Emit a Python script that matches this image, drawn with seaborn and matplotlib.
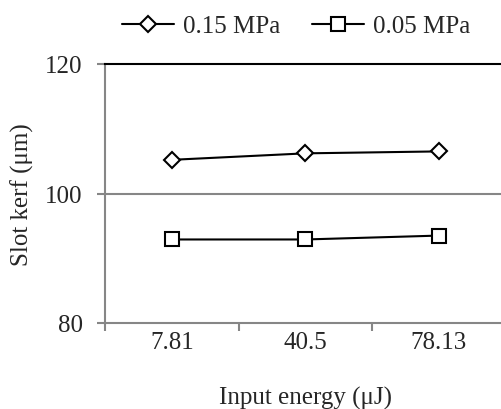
import matplotlib
matplotlib.use("Agg")
import matplotlib.pyplot as plt
import seaborn as sns
import pandas as pd

# data
energy = ["7.81", "40.5", "78.13"]
kerf_015 = [105.2, 106.2, 106.5]
kerf_005 = [92.9, 92.9, 93.5]

sns.set_style("white")
plt.rcParams['font.family'] = ['Liberation Serif', 'DejaVu Serif']
plt.rcParams['font.size'] = 18

gray = '#868686'

fig = plt.figure(figsize=(5.01, 4.10), dpi=100)
ax = fig.add_axes([105 / 501, 86 / 410, 400.5 / 501, 259 / 410])

df1 = pd.DataFrame({"energy": energy, "kerf": kerf_015})
df2 = pd.DataFrame({"energy": energy, "kerf": kerf_005})

sns.lineplot(data=df1, x="energy", y="kerf", ax=ax, color='black', lw=1.5,
             marker='D', markersize=8, markerfacecolor='white',
             markeredgecolor='black', markeredgewidth=1.5, label='0.15 MPa')
sns.lineplot(data=df2, x="energy", y="kerf", ax=ax, color='black', lw=1.5,
             marker='s', markersize=10.5, markerfacecolor='white',
             markeredgecolor='black', markeredgewidth=1.5, label='0.05 MPa')

ax.set_xlim(-0.5, 2.5)
ax.set_ylim(80, 120)
ax.set_yticks([80, 100, 120])
ax.set_xticks([0, 1, 2])
ax.set_xticks([-0.5, 0.5, 1.5], minor=True)
ax.tick_params(axis='x', which='major', length=0, pad=5.5)
ax.tick_params(axis='x', which='minor', length=6, width=1.5, color=gray, direction='out', bottom=True)
ax.tick_params(axis='y', length=6, width=1.5, color=gray, direction='out', left=True, pad=10)

ax.grid(False)
ax.axhline(100, color=gray, lw=1.5, zorder=0)

ax.spines['left'].set_color(gray)
ax.spines['left'].set_linewidth(1.5)
ax.spines['bottom'].set_color(gray)
ax.spines['bottom'].set_linewidth(1.5)
ax.spines['top'].set_color('black')
ax.spines['top'].set_linewidth(1.5)
ax.spines['right'].set_visible(False)

ax.set_xlabel("Input energy (μJ)", labelpad=24)
ax.set_ylabel("Slot kerf (μm)", labelpad=8)

ax.legend(loc='center', bbox_to_anchor=(296 / 501, 1 - 27 / 410),
          bbox_transform=fig.transFigure, ncol=2, frameon=False,
          handlelength=2.1, handletextpad=0.36, columnspacing=1.24,
          borderpad=0, borderaxespad=0)

fig.savefig("out.png", dpi=100)
